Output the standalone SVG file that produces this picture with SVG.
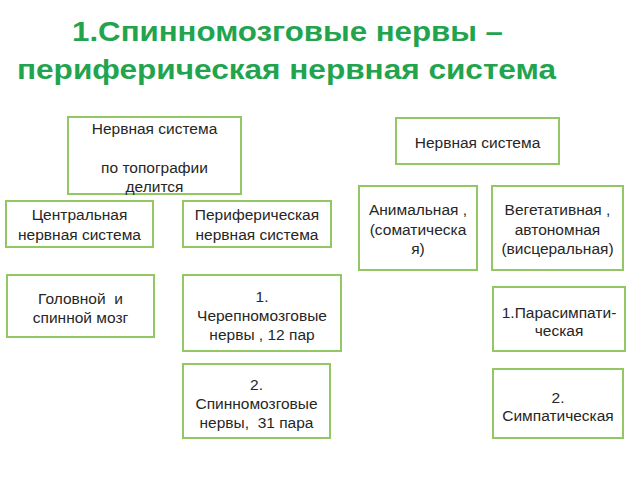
<svg xmlns="http://www.w3.org/2000/svg" width="640" height="480" viewBox="0 0 640 480">
<style>
.box{fill:#fff;stroke:#93c764;stroke-width:2}
.t{font-family:"Liberation Sans",Arial,sans-serif;font-size:15.5px;fill:#262626;text-anchor:middle;white-space:pre}
.h{font-family:"Liberation Sans",Arial,sans-serif;font-weight:bold;font-size:27px;fill:#22a44e}
</style>
<rect width="640" height="480" fill="#fff"/>
<text class="h" x="72" y="41" textLength="431" lengthAdjust="spacingAndGlyphs">1.Спинномозговые нервы –</text>
<text class="h" x="17" y="79" textLength="539" lengthAdjust="spacingAndGlyphs">периферическая нервная система</text>
<g id="connectors"></g>
<g id="n1"><rect class="box" x="68" y="117" width="173" height="77"/>
<text class="t" x="154.5" y="134">Нервная система</text><text class="t" x="154.5" y="173">по топографии</text><text class="t" x="154.5" y="192">делится</text></g>
<g id="n2"><rect class="box" x="6" y="201" width="147" height="46"/>
<text class="t" x="79.5" y="220">Центральная</text><text class="t" x="79.5" y="240">нервная система</text></g>
<g id="n3"><rect class="box" x="183" y="201" width="148" height="46"/>
<text class="t" x="257" y="220">Периферическая</text><text class="t" x="257" y="240">нервная система</text></g>
<g id="n4"><rect class="box" x="7" y="275" width="147" height="62"/>
<text class="t" x="80.5" y="304" xml:space="preserve">Головной  и</text><text class="t" x="80.5" y="323">спинной мозг</text></g>
<g id="n5"><rect class="box" x="183" y="275" width="158" height="76"/>
<text class="t" x="262" y="302">1.</text><text class="t" x="262" y="321">Черепномозговые</text><text class="t" x="262" y="340">нервы , 12 пар</text></g>
<g id="n6"><rect class="box" x="183" y="364" width="147" height="74"/>
<text class="t" x="256.5" y="390">2.</text><text class="t" x="256.5" y="409">Спинномозговые</text><text class="t" x="256.5" y="428" xml:space="preserve">нервы,  31 пара</text></g>
<g id="n7"><rect class="box" x="396" y="118" width="163" height="46"/>
<text class="t" x="477.5" y="148" font-size="14">Нервная система</text></g>
<g id="n8"><rect class="box" x="359" y="186" width="118" height="84"/>
<text class="t" x="418" y="215">Анимальная ,</text><text class="t" x="418" y="235">(соматическа</text><text class="t" x="418" y="254">я)</text></g>
<g id="n9"><rect class="box" x="492" y="186" width="131" height="84"/>
<text class="t" x="557.5" y="215">Вегетативная ,</text><text class="t" x="557.5" y="235">автономная</text><text class="t" x="557.5" y="254">(висцеральная)</text></g>
<g id="n10"><rect class="box" x="493" y="287" width="132" height="64"/>
<text class="t" x="559" y="318">1.Парасимпати-</text><text class="t" x="559" y="336">ческая</text></g>
<g id="n11"><rect class="box" x="493" y="369" width="130" height="69"/>
<text class="t" x="558" y="403">2.</text><text class="t" x="558" y="421">Симпатическая</text></g>
</svg>
